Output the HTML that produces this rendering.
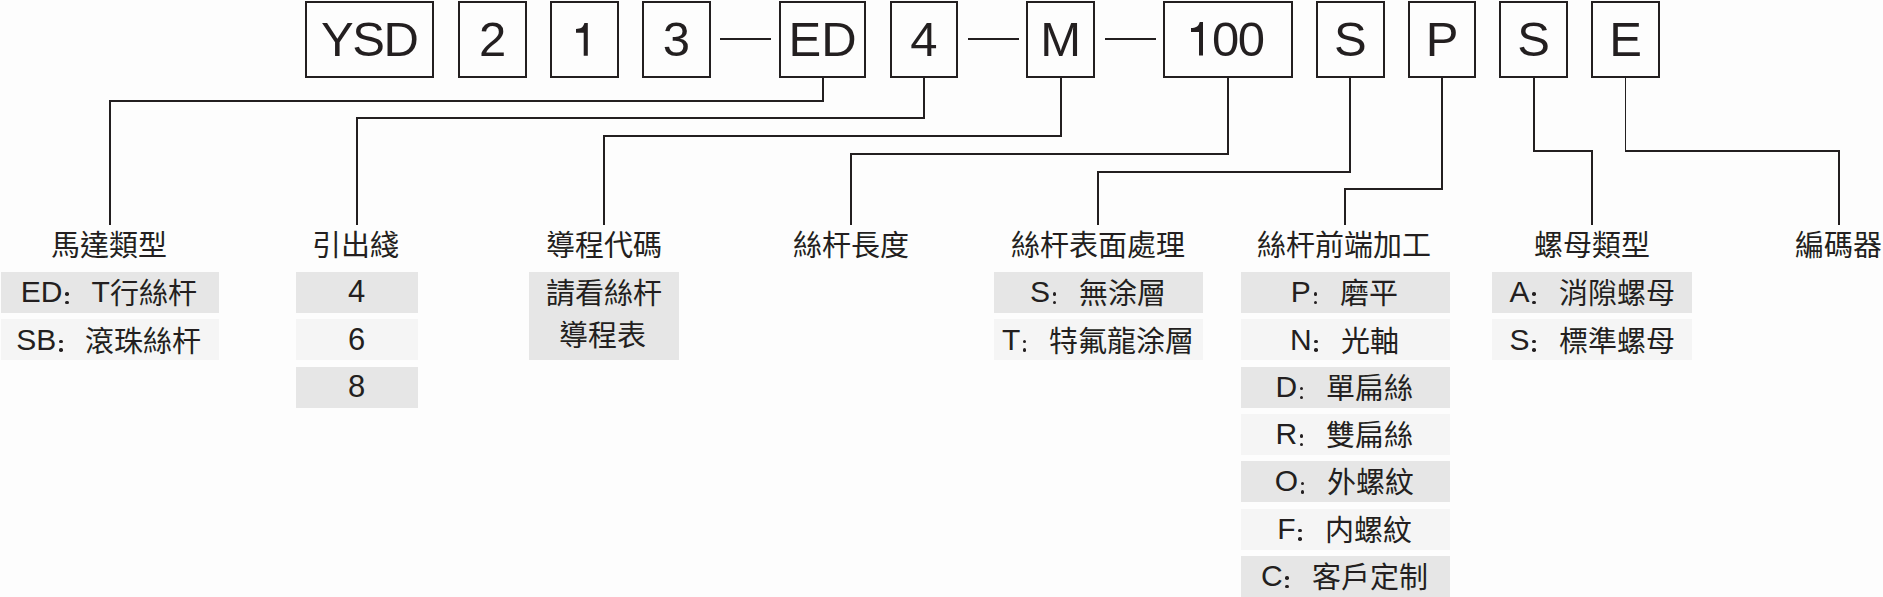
<!DOCTYPE html>
<html lang="zh-TW"><head><meta charset="utf-8"><title>YSD</title>
<style>
html,body{margin:0;padding:0;background:#fdfdfd;}
body{width:1883px;height:597px;position:relative;overflow:hidden;font-family:"Liberation Sans",sans-serif;color:#231f20;}
.b{position:absolute;box-sizing:border-box;border:2px solid #231f20;}
.bt{position:absolute;text-align:center;white-space:nowrap;font-size:49px;}
.l{position:absolute;background:#231f20;}
.t{position:absolute;text-align:center;white-space:nowrap;font-size:29px;}
.g{position:absolute;}
.r{position:absolute;text-align:center;white-space:nowrap;font-size:29px;}
.L{font-size:30px;vertical-align:2.5px;line-height:0;}
.c{display:inline-block;position:relative;width:29px;height:0;vertical-align:2.5px;}
.c::before,.c::after{content:"";position:absolute;left:2.7px;width:3.5px;height:3.5px;border-radius:50%;background:#231f20;}
.c::before{top:-9.4px;}
.c::after{top:-0.8px;}
</style></head><body>

<div class="b" style="left:304.9px;top:0.7px;width:129.1px;height:77.45px"></div>
<div class="bt" style="left:268.45px;width:200px;top:0px;height:78px;line-height:78px;letter-spacing:-1.5px;text-indent:1.5px">YSD</div>
<div class="b" style="left:458.3px;top:0.7px;width:68.7px;height:77.45px"></div>
<div class="bt" style="left:392.65px;width:200px;top:0px;height:78px;line-height:78px">2</div>
<div class="b" style="left:550px;top:0.7px;width:69px;height:77.45px"></div>
<svg style="position:absolute;left:575.9px;top:22.9px" width="12" height="33" viewBox="0 0 12 33"><path fill="#231f20" d="M11.8 0V32.7H7.7V9.8H0V5.9C4.5 5.9 7.2 4.6 8.4 0Z"/></svg>
<div class="b" style="left:642px;top:0.7px;width:68.7px;height:77.45px"></div>
<div class="bt" style="left:576.35px;width:200px;top:0px;height:78px;line-height:78px">3</div>
<div class="b" style="left:778.8px;top:0.7px;width:87.6px;height:77.45px"></div>
<div class="bt" style="left:722.6px;width:200px;top:0px;height:78px;line-height:78px">ED</div>
<div class="b" style="left:889.7px;top:0.7px;width:68.6px;height:77.45px"></div>
<div class="bt" style="left:824px;width:200px;top:0px;height:78px;line-height:78px">4</div>
<div class="b" style="left:1026.4px;top:0.7px;width:68.6px;height:77.45px"></div>
<div class="bt" style="left:960.7px;width:200px;top:0px;height:78px;line-height:78px">M</div>
<div class="b" style="left:1163.4px;top:0.7px;width:129.6px;height:77.45px"></div>
<svg style="position:absolute;left:1190.9px;top:22.2px" width="12.3" height="33.4" viewBox="0 0 11.8 32.7" preserveAspectRatio="none"><path fill="#231f20" d="M11.8 0V32.7H7.7V9.8H0V5.9C4.5 5.9 7.2 4.6 8.4 0Z"/></svg>
<div class="bt" style="left:1212px;top:0px;height:78px;line-height:78px;text-align:left;letter-spacing:-1.45px">00</div>
<div class="b" style="left:1316px;top:0.7px;width:68.8px;height:77.45px"></div>
<div class="bt" style="left:1250.4px;width:200px;top:0px;height:78px;line-height:78px">S</div>
<div class="b" style="left:1407.8px;top:0.7px;width:68.4px;height:77.45px"></div>
<div class="bt" style="left:1342px;width:200px;top:0px;height:78px;line-height:78px">P</div>
<div class="b" style="left:1499.2px;top:0.7px;width:68.8px;height:77.45px"></div>
<div class="bt" style="left:1433.6px;width:200px;top:0px;height:78px;line-height:78px">S</div>
<div class="b" style="left:1591px;top:0.7px;width:69px;height:77.45px"></div>
<div class="bt" style="left:1525.5px;width:200px;top:0px;height:78px;line-height:78px">E</div>
<div class="l" style="left:720px;top:38.2px;width:51px;height:2px"></div>
<div class="l" style="left:968px;top:38.2px;width:50.7px;height:2px"></div>
<div class="l" style="left:1105px;top:38.2px;width:50.7px;height:2px"></div>
<div class="l" style="left:822.1px;top:77.15px;width:1.8px;height:24.75px"></div>
<div class="l" style="left:109px;top:100.1px;width:714.9px;height:1.8px"></div>
<div class="l" style="left:109px;top:100.1px;width:1.8px;height:124.7px"></div>
<div class="l" style="left:923.1px;top:77.15px;width:1.8px;height:42.05px"></div>
<div class="l" style="left:356.2px;top:117.4px;width:568.7px;height:1.8px"></div>
<div class="l" style="left:356.2px;top:117.4px;width:1.8px;height:107.4px"></div>
<div class="l" style="left:1060.1px;top:77.15px;width:1.8px;height:59.75px"></div>
<div class="l" style="left:603.1px;top:135.1px;width:458.8px;height:1.8px"></div>
<div class="l" style="left:603.1px;top:135.1px;width:1.8px;height:89.7px"></div>
<div class="l" style="left:1227.1px;top:77.15px;width:1.8px;height:77.65px"></div>
<div class="l" style="left:850.1px;top:153px;width:378.8px;height:1.8px"></div>
<div class="l" style="left:850.1px;top:153px;width:1.8px;height:71.8px"></div>
<div class="l" style="left:1349.4px;top:77.15px;width:1.8px;height:95.55px"></div>
<div class="l" style="left:1097.2px;top:170.9px;width:254px;height:1.8px"></div>
<div class="l" style="left:1097.2px;top:170.9px;width:1.8px;height:53.9px"></div>
<div class="l" style="left:1441.2px;top:77.15px;width:1.8px;height:112.95px"></div>
<div class="l" style="left:1344.4px;top:188.3px;width:98.6px;height:1.8px"></div>
<div class="l" style="left:1344.4px;top:188.3px;width:1.8px;height:36.5px"></div>
<div class="l" style="left:1533.1px;top:77.15px;width:1.8px;height:74.75px"></div>
<div class="l" style="left:1533.1px;top:150.1px;width:60px;height:1.8px"></div>
<div class="l" style="left:1591.3px;top:150.1px;width:1.8px;height:74.7px"></div>
<div class="l" style="left:1624.6px;top:77.15px;width:1.8px;height:74.65px"></div>
<div class="l" style="left:1624.6px;top:150px;width:215.3px;height:1.8px"></div>
<div class="l" style="left:1838.1px;top:150px;width:1.8px;height:74.8px"></div>
<div class="t" style="left:-41.2px;width:300px;top:226px;height:40px;line-height:40px">馬達類型</div>
<div class="g" style="left:1px;width:218.2px;top:272px;height:41px;background:#e6e6e6"></div>
<div class="r" style="left:-21.2px;width:260px;top:274.2px;height:41px;line-height:41px"><span class="L">ED</span><span class="c"></span><span class="L">T</span>行絲杆</div>
<div class="g" style="left:1px;width:218.2px;top:319.3px;height:41px;background:#f5f5f5"></div>
<div class="r" style="left:-21.2px;width:260px;top:321.5px;height:41px;line-height:41px"><span class="L">SB</span><span class="c"></span>滾珠絲杆</div>
<div class="t" style="left:205.6px;width:300px;top:226px;height:40px;line-height:40px">引出綫</div>
<div class="g" style="left:296px;width:121.7px;top:272px;height:41px;background:#e6e6e6"></div>
<div class="r" style="left:226.5px;width:260px;top:274.2px;height:41px;line-height:41px"><span class="L" style="font-size:31px">4</span></div>
<div class="g" style="left:296px;width:121.7px;top:319.3px;height:41px;background:#f5f5f5"></div>
<div class="r" style="left:226.5px;width:260px;top:321.5px;height:41px;line-height:41px"><span class="L" style="font-size:31px">6</span></div>
<div class="g" style="left:296px;width:121.7px;top:366.6px;height:41px;background:#e6e6e6"></div>
<div class="r" style="left:226.5px;width:260px;top:368.8px;height:41px;line-height:41px"><span class="L" style="font-size:31px">8</span></div>
<div class="t" style="left:453.85px;width:300px;top:226px;height:40px;line-height:40px">導程代碼</div>
<div class="g" style="left:529.2px;width:149.9px;top:272px;height:88.3px;background:#e6e6e6"></div>
<div class="r" style="left:503.85px;width:200px;top:273px;line-height:43px;font-size:29px">請看絲杆</div>
<div class="r" style="left:502.45px;width:200px;top:315px;line-height:43px;font-size:29px">導程表</div>
<div class="t" style="left:700.75px;width:300px;top:226px;height:40px;line-height:40px">絲杆長度</div>
<div class="t" style="left:948.05px;width:300px;top:226px;height:40px;line-height:40px">絲杆表面處理</div>
<div class="g" style="left:994.1px;width:208.6px;top:272px;height:41px;background:#e6e6e6"></div>
<div class="r" style="left:968.05px;width:260px;top:274.2px;height:41px;line-height:41px"><span class="L">S</span><span class="c"></span>無涂層</div>
<div class="g" style="left:994.1px;width:208.6px;top:319.3px;height:41px;background:#f5f5f5"></div>
<div class="r" style="left:968.05px;width:260px;top:321.5px;height:41px;line-height:41px"><span class="L">T</span><span class="c"></span>特氟龍涂層</div>
<div class="t" style="left:1194.35px;width:300px;top:226px;height:40px;line-height:40px">絲杆前端加工</div>
<div class="g" style="left:1240.9px;width:208.7px;top:272px;height:41px;background:#e6e6e6"></div>
<div class="r" style="left:1214.35px;width:260px;top:274.2px;height:41px;line-height:41px"><span class="L">P</span><span class="c"></span>磨平</div>
<div class="g" style="left:1240.9px;width:208.7px;top:319.3px;height:41px;background:#f5f5f5"></div>
<div class="r" style="left:1214.35px;width:260px;top:321.5px;height:41px;line-height:41px"><span class="L">N</span><span class="c"></span>光軸</div>
<div class="g" style="left:1240.9px;width:208.7px;top:366.6px;height:41px;background:#e6e6e6"></div>
<div class="r" style="left:1214.35px;width:260px;top:368.8px;height:41px;line-height:41px"><span class="L">D</span><span class="c"></span>單扁絲</div>
<div class="g" style="left:1240.9px;width:208.7px;top:413.9px;height:41px;background:#f5f5f5"></div>
<div class="r" style="left:1214.35px;width:260px;top:416.1px;height:41px;line-height:41px"><span class="L">R</span><span class="c"></span>雙扁絲</div>
<div class="g" style="left:1240.9px;width:208.7px;top:461.2px;height:41px;background:#e6e6e6"></div>
<div class="r" style="left:1214.35px;width:260px;top:463.4px;height:41px;line-height:41px"><span class="L">O</span><span class="c"></span>外螺紋</div>
<div class="g" style="left:1240.9px;width:208.7px;top:508.5px;height:41px;background:#f5f5f5"></div>
<div class="r" style="left:1214.35px;width:260px;top:510.7px;height:41px;line-height:41px"><span class="L">F</span><span class="c"></span>内螺紋</div>
<div class="g" style="left:1240.9px;width:208.7px;top:555.8px;height:41px;background:#e6e6e6"></div>
<div class="r" style="left:1214.35px;width:260px;top:558px;height:41px;line-height:41px"><span class="L">C</span><span class="c"></span>客戶定制</div>
<div class="t" style="left:1442.1px;width:300px;top:226px;height:40px;line-height:40px">螺母類型</div>
<div class="g" style="left:1492.1px;width:200.4px;top:272px;height:41px;background:#e6e6e6"></div>
<div class="r" style="left:1462.1px;width:260px;top:274.2px;height:41px;line-height:41px"><span class="L">A</span><span class="c"></span>消隙螺母</div>
<div class="g" style="left:1492.1px;width:200.4px;top:319.3px;height:41px;background:#f5f5f5"></div>
<div class="r" style="left:1462.1px;width:260px;top:321.5px;height:41px;line-height:41px"><span class="L">S</span><span class="c"></span>標準螺母</div>
<div class="t" style="left:1688.3px;width:300px;top:226px;height:40px;line-height:40px">編碼器</div>
</body></html>
